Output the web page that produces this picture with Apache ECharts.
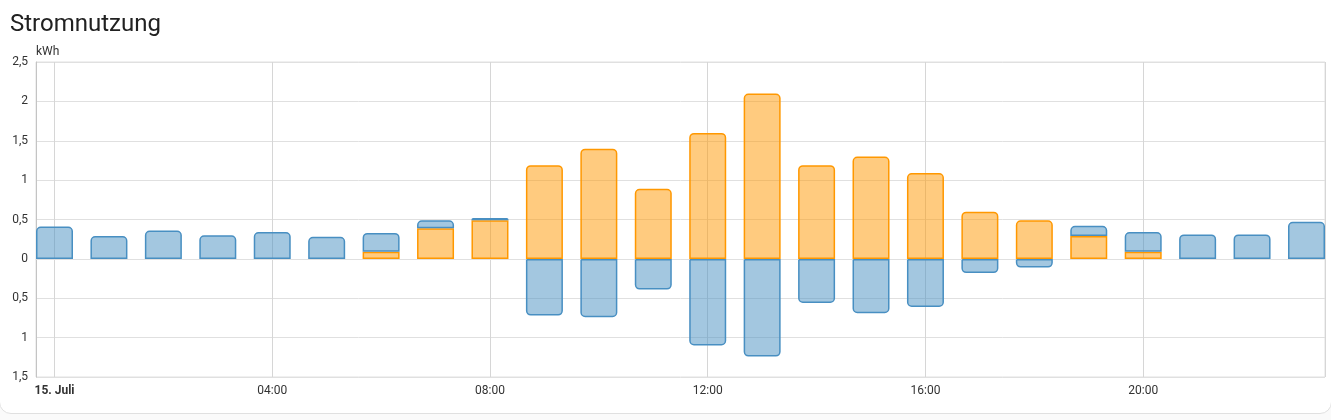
<!DOCTYPE html>
<html>
<head>
<meta charset="utf-8">
<script src="https://cdn.jsdelivr.net/npm/echarts@6/dist/echarts.min.js"></script>
<style>
  html, body { margin: 0; padding: 0; background: #fafafa; }
  .card {
    position: absolute; left: -1px; top: -13px; width: 1331px; height: 425px;
    background: #fff; border: 1px solid #e0e0e0; border-radius: 12px;
  }
  #chart { position: absolute; left: 0; top: 0; width: 1331px; height: 420px; }
</style>
</head>
<body>
<div class="card"></div>
<div id="chart"></div>
<script>
// Stunden des Tages (15. Juli)
const hours = [0, 1, 2, 3, 4, 5, 6, 7, 8, 9, 10, 11, 12, 13, 14, 15, 16, 17, 18, 19, 20, 21, 22, 23];

// Solar direkt verbraucht (kWh)
const solarUsed = [0, 0, 0, 0, 0, 0, 0.09, 0.39, 0.49, 1.19, 1.40, 0.89, 1.60, 2.10, 1.19, 1.30, 1.09, 0.60, 0.49, 0.29, 0.09, 0, 0, 0];

// Netzbezug (kWh)
const gridUsed = [0.41, 0.29, 0.36, 0.30, 0.34, 0.28, 0.24, 0.10, 0.03, 0, 0, 0, 0, 0, 0, 0, 0, 0, 0, 0.13, 0.25, 0.31, 0.31, 0.47];

// Einspeisung ins Netz (kWh, negativ dargestellt)
const gridReturn = [0, 0, 0, 0, 0, 0, 0, 0, 0, -0.72, -0.74, -0.39, -1.10, -1.24, -0.56, -0.69, -0.61, -0.18, -0.11, 0, 0, 0, 0, 0];

const HOUR = 3600 * 1000;
const day = new Date(2024, 6, 15, 0, 0, 0).getTime();
const t = (h) => day + h * HOUR;

const chart = echarts.init(document.getElementById("chart"), null, { renderer: "canvas" });

const fmtNum = (v) => String(Math.abs(v)).replace(".", ",");

const solarColor = "#ff9800";
const gridColor = "#488fc2";

// 0-Werte nicht zeichnen, obersten Balkenteil oben abrunden
const solarData = hours.map((h, i) => ({
  value: [t(h), solarUsed[i] || "-"],
  itemStyle: { borderRadius: gridUsed[i] > 0 ? 0 : [4, 4, 0, 0] },
}));
const gridData = hours.map((h, i) => ({
  value: [t(h), gridUsed[i] || "-"],
  itemStyle: { borderRadius: [4, 4, 0, 0] },
}));
const returnData = hours.map((h, i) => ({
  value: [t(h), gridReturn[i] || "-"],
  itemStyle: { borderRadius: [0, 0, 4, 4] },
}));

const barSeries = (name, data, fill, border) => ({
  name,
  type: "bar",
  stack: "energie",
  barWidth: 37,
  data,
  itemStyle: { color: fill, borderColor: border, borderWidth: 1.5 },
});

chart.setOption({
  backgroundColor: "transparent",
  animation: false,
  textStyle: { fontFamily: "Roboto" },
  title: {
    text: "Stromnutzung",
    left: 5,
    top: 8,
    textStyle: { fontFamily: "Roboto", fontSize: 24, fontWeight: "normal", color: "#212121" },
  },
  grid: {
    left: 36,
    right: 6,
    top: 62,
    bottom: 43,
    show: true,
    borderColor: "#e0e0e0",
    borderWidth: 1,
  },
  xAxis: {
    type: "time",
    // die Achse wird um die halbe Balkenbreite erweitert
    min: t(0),
    max: t(23),
    minInterval: 4 * HOUR,
    maxInterval: 4 * HOUR,
    axisLine: { show: true, lineStyle: { color: "#e0e0e0" } },
    axisTick: { show: false },
    axisLabel: {
      color: "#333",
      fontSize: 12,
      margin: 8,
      showMinLabel: true,
      showMaxLabel: false,
      hideOverlap: false,
      formatter: (v) => {
        const d = new Date(v);
        if (d.getMinutes() !== 0) return "";
        const h = d.getHours();
        if (h % 4 !== 0) return "";
        return h === 0 ? "{b|15. Juli}" : String(h).padStart(2, "0") + ":00";
      },
      rich: { b: { fontWeight: "bold", fontSize: 12, color: "#333", fontFamily: "Roboto" } },
    },
    splitLine: { show: true, lineStyle: { color: "#d6d6d6" } },
  },
  yAxis: {
    type: "value",
    min: -1.5,
    max: 2.5,
    interval: 0.5,
    name: "kWh",
    nameLocation: "end",
    nameGap: 4,
    nameMoveOverlap: false,
    nameTextStyle: { color: "#333", fontSize: 12, align: "left" },
    axisLine: { show: true, lineStyle: { color: "#c4c4c4" } },
    axisTick: { show: false },
    axisLabel: { color: "#333", fontSize: 12, margin: 8, formatter: fmtNum },
    splitLine: { show: true, lineStyle: { color: "#e0e0e0" } },
  },
  series: [
    barSeries("Solar", solarData, "rgba(255,152,0,0.5)", solarColor),
    barSeries("Netz", gridData, "rgba(72,143,194,0.5)", gridColor),
    barSeries("Einspeisung", returnData, "rgba(72,143,194,0.5)", gridColor),
  ],
});
</script>
</body>
</html>
